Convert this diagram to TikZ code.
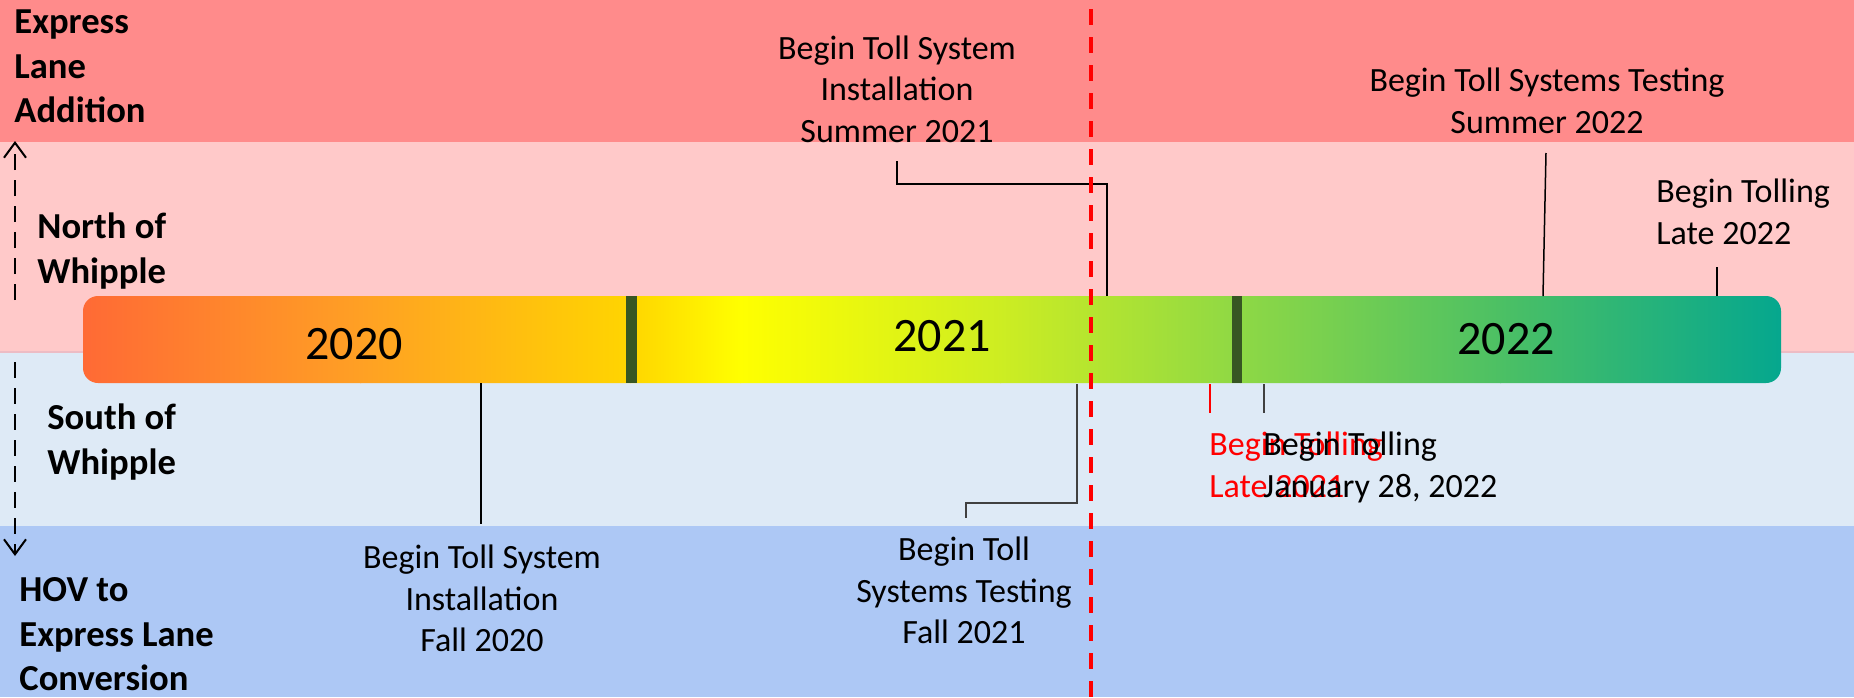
\documentclass[tikz,border=0pt]{standalone}
\usepackage{fontspec}
\setmainfont{Carlito}
\usetikzlibrary{arrows.meta}
\definecolor{bandA}{HTML}{FF8B8B}
\definecolor{bandB}{HTML}{FFC9C9}
\definecolor{bandC}{HTML}{DEEAF6}
\definecolor{bandD}{HTML}{ADC8F5}
\definecolor{bandline}{HTML}{EDBCC4}
\definecolor{divgreen}{HTML}{375623}
\definecolor{gA}{HTML}{FF6A35}
\definecolor{gB}{HTML}{FFA024}
\definecolor{gC}{HTML}{FFD500}
\definecolor{gD}{HTML}{FFFF00}
\definecolor{gE}{HTML}{CDED22}
\definecolor{gF}{HTML}{8ED845}
\definecolor{gG}{HTML}{4CC064}
\definecolor{gH}{HTML}{05A78E}
\definecolor{todayred}{HTML}{FF0000}
\definecolor{connGray}{HTML}{404040}
\tikzset{
  lbl/.style={font=\fontsize{18.3}{22.3}\selectfont\bfseries, align=left, anchor=north west, inner sep=0pt},
  evt/.style={font=\fontsize{17}{20.8}\selectfont, align=center, anchor=north, inner sep=0pt},
  evtl/.style={font=\fontsize{17}{20.8}\selectfont, align=left, anchor=north west, inner sep=0pt},
  yr/.style={font=\fontsize{24}{28}\selectfont, inner sep=0pt},
  conn/.style={draw=black, line width=0.75pt},
  sidearrow/.style={line width=1.4pt, dash pattern=on 8pt off 5pt, -{Straight Barb[length=7.5pt,width=11pt,line width=1pt]}},
  todayline/.style={draw=todayred, line width=2pt, dash pattern=on 8pt off 6pt, dash phase=9.5pt}
}
\begin{document}
\begin{tikzpicture}[x=0.5pt,y=-0.5pt]
\useasboundingbox (0,0) rectangle (1854,697);
% bands
\fill[bandA] (0,0) rectangle (1854,142);
\fill[bandB] (0,142) rectangle (1854,352);
\fill[bandC] (0,352) rectangle (1854,526);
\fill[bandD] (0,526) rectangle (1854,697);
\draw[bandline, line width=0.6pt] (0,352) -- (1854,352);
% timeline bar
\begin{scope}
\clip[rounded corners=7.5pt] (83,296) rectangle (1781,383);
\shade[left color=gA, right color=gB] (83,296) rectangle (361,383);
\shade[left color=gB, right color=gC] (360,296) rectangle (631,383);
\shade[left color=gC, right color=gD] (630,296) rectangle (741,383);
\shade[left color=gD, right color=gE] (740,296) rectangle (1001,383);
\shade[left color=gE, right color=gF] (1000,296) rectangle (1241,383);
\shade[left color=gF, right color=gG] (1240,296) rectangle (1501,383);
\shade[left color=gG, right color=gH] (1500,296) rectangle (1781,383);
\end{scope}
\fill[divgreen] (626,296) rectangle (637,383);
\fill[divgreen] (1232,296) rectangle (1242,383);
% years
\node[yr] (y2020) at (354,344) {2020};
\node[yr] (y2021) at (942,336) {2021};
\node[yr] (y2022) at (1506,339) {2022};
% side labels
\node[lbl] (ela) at (14,1.8) {\strut Express\\Lane\\Addition};
\node[lbl] (now) at (37,206.8) {\strut North of\\Whipple};
\node[lbl] (sow) at (47,397.8) {\strut South of\\Whipple};
\node[lbl] (hov) at (19,569.8) {\strut HOV to\\Express Lane\\Conversion};
\coordinate (upS) at (15,300);
\coordinate (upE) at (15,141);
\coordinate (dnS) at (15,362);
\coordinate (dnE) at (15,556);
\draw[sidearrow] (upS) -- (upE);
\draw[sidearrow] (dnS) -- (dnE);
% events
\node[evt] (e1) at (897,29.5) {\strut Begin Toll System\\Installation\\Summer 2021};
\node[evt] (e2) at (1547,62) {\strut Begin Toll Systems Testing\\Summer 2022};
\node[evtl] (e3) at (1656,173) {\strut Begin Tolling\\Late 2022};
\node[evt] (e4) at (482,539) {\strut Begin Toll System\\Installation\\Fall 2020};
\node[evt] (e5) at (964,531) {\strut Begin Toll\\Systems Testing\\Fall 2021};
\node[evtl, text=todayred] (e6) at (1209,426) {\strut Begin Tolling\\Late 2021};
\node[evtl] (e7) at (1263,426) {\strut Begin Tolling\\January 28, 2022};
% connectors
\coordinate (c1s) at (1107,296);
\coordinate (c1e) at (897,161);
\draw[conn] (c1s) -- (1107,184) -| (c1e);
\coordinate (c2s) at (1543,296);
\coordinate (c2e) at (1546,153);
\draw[conn] (c2s) -- (c2e);
\coordinate (c3s) at (1717,296);
\coordinate (c3e) at (1717,267);
\draw[conn] (c3s) -- (c3e);
\coordinate (c4s) at (481,383);
\coordinate (c4e) at (481,524);
\draw[conn] (c4s) -- (c4e);
\coordinate (c5s) at (1077,384);
\coordinate (c5e) at (966,518);
\draw[conn, draw=connGray] (c5s) -- (1077,503) -| (c5e);
\coordinate (c6s) at (1210,384);
\coordinate (c6e) at (1210,413);
\draw[conn, draw=todayred] (c6s) -- (c6e);
\coordinate (c7s) at (1264,384);
\coordinate (c7e) at (1264,413);
\draw[conn, draw=connGray] (c7s) -- (c7e);
% today line
\coordinate (tTop) at (1091,0);
\coordinate (tBot) at (1091,697);
\draw[todayline] (tTop) -- (tBot);
\end{tikzpicture}
\end{document}
